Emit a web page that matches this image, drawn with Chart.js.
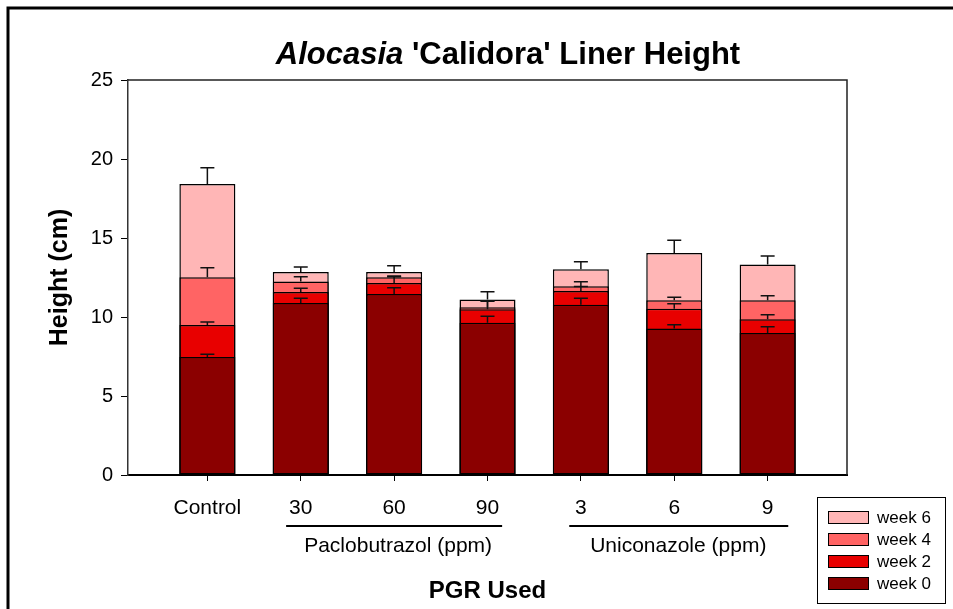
<!DOCTYPE html>
<html>
<head>
<meta charset="utf-8">
<script src="https://cdn.jsdelivr.net/npm/chart.js@4.4.0/dist/chart.umd.min.js"></script>
<style>
  body { margin: 0; background: #fff; }
  #wrap { width: 953px; height: 609px; }
</style>
</head>
<body>
<div id="wrap"><canvas id="chart" width="953" height="609"></canvas></div>
<script>
// treatments along the x axis
const categories = ['Control', '30', '60', '90', '3', '6', '9'];
// mean height (cm) at each week
const week0 = [7.47, 10.89, 11.46, 9.64, 10.78, 9.28, 8.99];
const week2 = [9.49, 11.58, 12.15, 10.49, 11.65, 10.53, 9.85];
const week4 = [12.51, 12.24, 12.51, 10.62, 11.94, 11.06, 11.06];
const week6 = [18.42, 12.85, 12.85, 11.10, 13.02, 14.05, 13.33];
// error bar sizes
const err0 = [0.18, 0.29, 0.39, 0.40, 0.40, 0.23, 0.40];
const err2 = [0.19, 0.24, 0.40, 0.50, 0.28, 0.31, 0.30];
const err4 = [0.61, 0.31, 0.08, 0.41, 0.29, 0.19, 0.29];
const err6 = [1.03, 0.31, 0.40, 0.50, 0.48, 0.80, 0.53];
const yTicks = [0, 5, 10, 15, 20, 25];
// chemical groups under the dose labels (category index ranges)
const groupLabels = ['Paclobutrazol (ppm)', 'Uniconazole (ppm)'];
const groupSpans = [[1, 3], [4, 6]];

const FONT = "'Liberation Sans', Arial, Helvetica, sans-serif";
const seriesNames = ['week 0', 'week 2', 'week 4', 'week 6'];
const seriesColors = ['#8b0000', '#e80000', '#ff6464', '#ffb6b6'];
const seriesErrs = [err0, err2, err4, err6];

function pts(arr) {
  return arr.map((v, i) => ({ x: i + 1, y: v }));
}

const datasets = [week0, week2, week4, week6].map((arr, k) => ({
  label: seriesNames[k],
  data: pts(arr),
  backgroundColor: seriesColors[k],
  borderColor: '#000',
  borderWidth: 1.5,
  borderSkipped: false,
  barPercentage: 0.6,
  categoryPercentage: 1
}));

const extras = {
  id: 'extras',
  afterDatasetsDraw(chart) {
    const ctx = chart.ctx;
    const ys = chart.scales.y;
    ctx.save();
    ctx.strokeStyle = '#111';
    ctx.lineWidth = 1.5;
    chart.data.datasets.forEach((ds, k) => {
      const meta = chart.getDatasetMeta(k);
      meta.data.forEach((bar, i) => {
        const v = ds.data[i].y;
        const top = ys.getPixelForValue(v + seriesErrs[k][i]);
        ctx.beginPath();
        ctx.moveTo(bar.x, bar.y);
        ctx.lineTo(bar.x, top);
        ctx.moveTo(bar.x - 7, top);
        ctx.lineTo(bar.x + 7, top);
        ctx.stroke();
      });
    });
    ctx.restore();
  },
  afterDraw(chart) {
    const ctx = chart.ctx;
    const a = chart.chartArea;
    const xs = chart.scales.x;
    ctx.save();

    // plot frame top/right
    ctx.strokeStyle = '#222';
    ctx.lineWidth = 1.5;
    ctx.beginPath();
    ctx.moveTo(a.left, a.top);
    ctx.lineTo(a.right, a.top);
    ctx.lineTo(a.right, a.bottom);
    ctx.stroke();

    // outer frame
    ctx.strokeStyle = '#000';
    ctx.lineWidth = 3;
    ctx.beginPath();
    ctx.moveTo(8, 620);
    ctx.lineTo(8, 8);
    ctx.lineTo(960, 8);
    ctx.stroke();

    // title with italic genus
    ctx.fillStyle = '#000';
    ctx.textBaseline = 'alphabetic';
    const f1 = 'italic bold 31px ' + FONT;
    const f2 = 'bold 31px ' + FONT;
    ctx.font = f1;
    const w1 = ctx.measureText('Alocasia').width;
    ctx.font = f2;
    const rest = " 'Calidora' Liner Height";
    const w2 = ctx.measureText(rest).width;
    let tx = 508 - (w1 + w2) / 2;
    ctx.textAlign = 'left';
    ctx.font = f1;
    ctx.fillText('Alocasia', tx, 64);
    ctx.font = f2;
    ctx.fillText(rest, tx + w1, 64);

    // group labels with rules
    ctx.textAlign = 'center';
    ctx.textBaseline = 'middle';
    ctx.font = '21px ' + FONT;
    ctx.lineWidth = 2;
    groupLabels.forEach((lab, g) => {
      const x0 = xs.getPixelForValue(groupSpans[g][0] + 1);
      const x1 = xs.getPixelForValue(groupSpans[g][1] + 1);
      const cx = (x0 + x1) / 2;
      ctx.beginPath();
      ctx.moveTo(cx - 108 + g * 3, 526);
      ctx.lineTo(cx + 108 + g * 6, 526);
      ctx.stroke();
      ctx.fillText(lab, cx + 4, 546);
    });

    // axis titles
    ctx.font = 'bold 24px ' + FONT;
    ctx.fillText('PGR Used', (a.left + a.right) / 2, 591);
    ctx.save();
    ctx.font = 'bold 25px ' + FONT;
    ctx.translate(60, (a.top + a.bottom) / 2);
    ctx.rotate(-Math.PI / 2);
    ctx.fillText('Height (cm)', 0, 0);
    ctx.restore();

    // legend
    ctx.lineWidth = 1;
    ctx.strokeStyle = '#000';
    ctx.strokeRect(817.5, 497.5, 128, 106);
    ctx.font = '17px ' + FONT;
    ctx.textAlign = 'left';
    for (let r = 0; r < 4; r++) {
      const k = 3 - r;
      const cy = 517 + r * 22;
      ctx.fillStyle = seriesColors[k];
      ctx.fillRect(828, cy - 6, 40, 12);
      ctx.strokeRect(828.5, cy - 5.5, 40, 12);
      ctx.fillStyle = '#000';
      ctx.fillText(seriesNames[k], 877, cy + 1);
    }
    ctx.restore();
  }
};

new Chart(document.getElementById('chart'), {
  type: 'bar',
  data: { datasets: datasets },
  options: {
    responsive: false,
    animation: false,
    layout: { padding: { top: 80, right: 106, left: 0, bottom: 0 } },
    plugins: { legend: { display: false }, tooltip: { enabled: false }, title: { display: false } },
    scales: {
      x: {
        type: 'linear',
        stacked: true,
        offset: false,
        min: 0.15,
        max: 7.85,
        afterFit(s) { s.height = 134; },
        afterBuildTicks(s) { s.ticks = categories.map((c, i) => ({ value: i + 1 })); },
        border: { display: true, color: '#000', width: 2 },
        grid: { display: true, offset: false, drawOnChartArea: false, drawTicks: true, tickLength: 6, tickColor: '#000', tickWidth: 1 },
        ticks: {
          autoSkip: false,
          maxRotation: 0,
          padding: 15,
          color: '#000',
          font: { family: FONT, size: 21 },
          callback: (v) => categories[Math.round(v) - 1]
        }
      },
      y: {
        stacked: false,
        min: 0,
        max: 25,
        afterFit(s) { s.width = 128; },
        afterBuildTicks(s) { s.ticks = yTicks.map(v => ({ value: v })); },
        border: { display: true, color: '#333', width: 1.5 },
        grid: { display: true, drawOnChartArea: false, drawTicks: true, tickLength: 7, tickColor: '#000', tickWidth: 1 },
        ticks: {
          padding: 8,
          color: '#000',
          font: { family: FONT, size: 20 }
        }
      }
    }
  },
  plugins: [extras]
});
</script>
</body>
</html>
